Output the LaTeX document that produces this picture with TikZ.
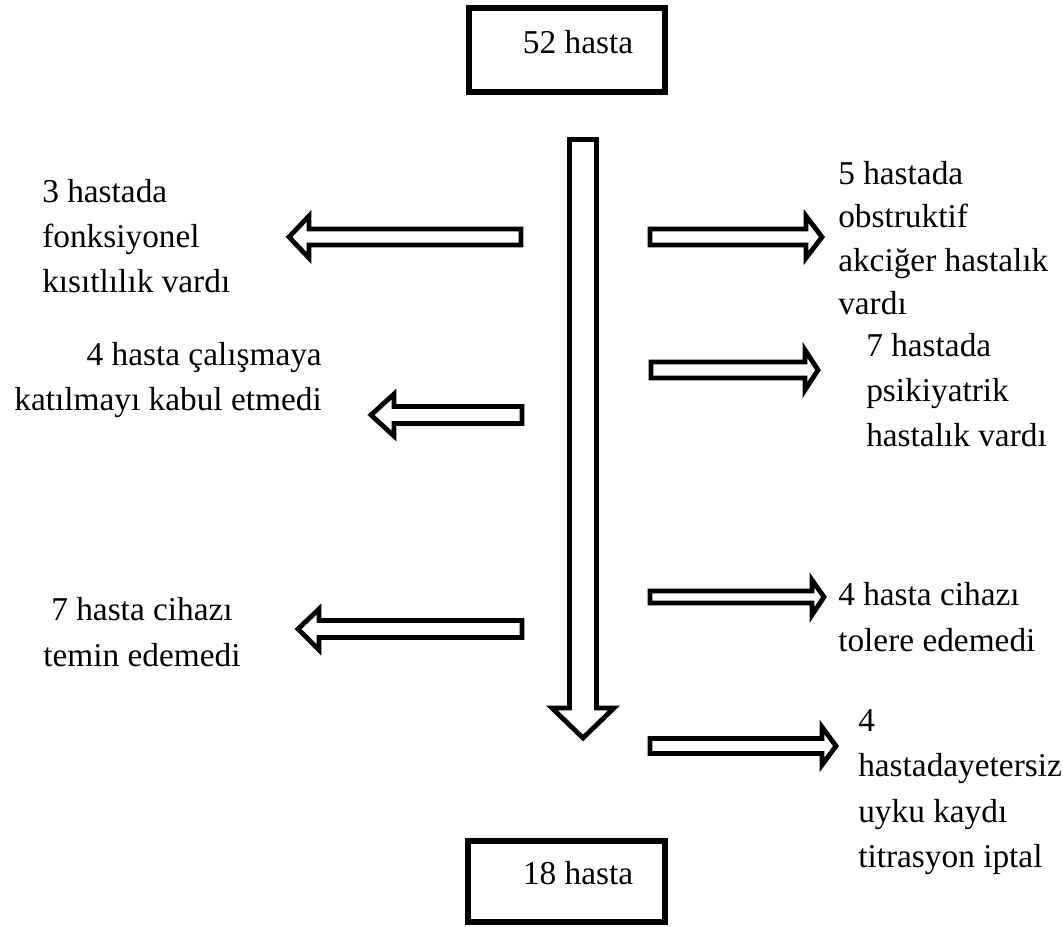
\documentclass[tikz,border=0pt]{standalone}
\usepackage{fontspec}
\setmainfont{Liberation Serif}
\begin{document}
\begin{tikzpicture}[x=.75pt,y=-.75pt,
  box/.style={line width=4.5pt},
  blk/.style={line width=3.6pt,line join=miter},
  lbl/.style={font=\fontsize{25}{34}\selectfont,inner sep=0pt}]
\useasboundingbox (0,0) rectangle (1063,927);

% boxes
\draw [box](469,8) rectangle (665,92);
\node [lbl] (top) at (578,42) {52 hasta};
\draw [box](468,841) rectangle (665,922);
\node [lbl] (bottom) at (578,873) {18 hasta};

% main arrow
\draw [blk](569.5,139.5) -- (596.5,139.5) -- (596.5,708) -- (614,708) -- (583,738) -- (552,708) -- (569.5,708) --cycle;

% left arrows
\draw [blk](521,229) -- (309,229) -- (309,216) -- (289,237) -- (309,258) -- (309,245) -- (521,245) --cycle;
\draw [blk](522,406.5) -- (394,406.5) -- (394,394) -- (371,415) -- (394,436) -- (394,423.5) -- (522,423.5) --cycle;
\draw [blk](522,620.5) -- (319,620.5) -- (319,609) -- (298,629) -- (319,650) -- (319,637.5) -- (522,637.5) --cycle;

% right arrows
\draw [blk](650,229) -- (806,229) -- (806,216) -- (822,237) -- (806,258) -- (806,245) -- (650,245) --cycle;
\draw [blk](651,362) -- (805,362) -- (805,350) -- (818,370) -- (805,390) -- (805,378) -- (651,378) --cycle;
\draw [blk](650,591) -- (812,591) -- (812,580) -- (824,597) -- (812,615) -- (812,603) -- (650,603) --cycle;
\draw [blk](650,738.5) -- (822,738.5) -- (822,727) -- (836,746) -- (822,765) -- (822,753.5) -- (650,753.5) --cycle;

% labels
\node [lbl,anchor=west,align=left] (fonk) at (42,236) {3 hastada\\fonksiyonel\\kısıtlılık vardı};
\node [lbl,anchor=east,align=right] (kabul) at (322,380) {4 hasta çalışmaya\\katılmayı kabul etmedi};
\node [lbl,align=center] (temin) at (142,632) {7 hasta cihazı\\temin edemedi};
\node [lbl,anchor=west,align=left,font=\fontsize{25}{32.5}\selectfont] (akciger) at (838,238) {5 hastada\\obstruktif\\akciğer hastalık\\vardı};
\node [lbl,anchor=west,align=left] (psik) at (866,390) {7 hastada\\psikiyatrik\\hastalık vardı};
\node [lbl,anchor=west,align=left] (tolere) at (838,617) {4 hasta cihazı\\tolere edemedi};
\node [lbl,anchor=west,align=left] (uyku) at (858,792) {4\\hastadayetersiz\\uyku kaydı\\titrasyon iptal};
\end{tikzpicture}
\end{document}
